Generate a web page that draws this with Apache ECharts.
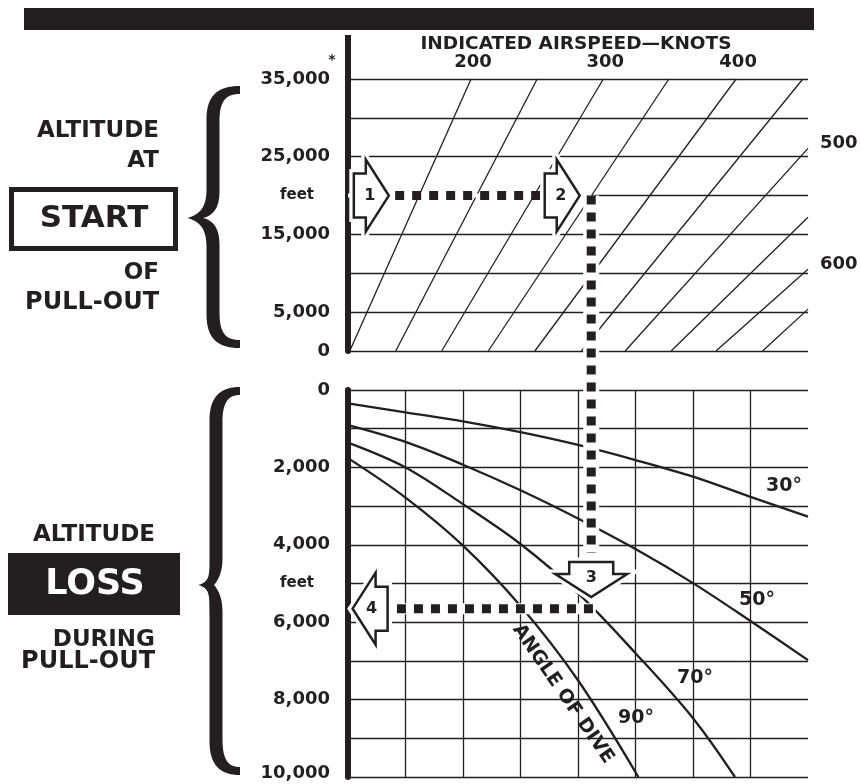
<!DOCTYPE html>
<html>
<head>
<meta charset="utf-8">
<script src="https://cdn.jsdelivr.net/npm/echarts@6/dist/echarts.min.js"></script>
<style>
  html, body { margin: 0; padding: 0; background: #fff; }
  #chart { width: 861px; height: 784px; }
</style>
</head>
<body>
<div id="chart"></div>
<script>
// x runs in chart grid units 0..8 (the eight columns of the lower panel)

// indicated airspeed lines, upper panel
var iasKnots = [200, 250, 300, 350, 400, 450, 500, 550, 600, 650];
var iasSeaLevelX = [0.03, 0.83, 1.63, 2.44, 3.25, 4.06, 4.82, 5.62, 6.40, 7.21];
var iasEndX = [2.14, 3.29, 4.44, 5.58, 6.75, 7.91, 8, 8, 8, 8];
var iasEndAlt = [35000, 35000, 35000, 35000, 35000, 35000, 26070, 17210, 10530, 5390];
var iasLabelled = [200, 300, 400, 500, 600];

// altitude loss during pull-out, [x, feet], one per angle of dive
var dive30 = [[0, 344], [1, 580], [2, 810], [3, 1090], [4, 1420], [5, 1810], [6, 2240], [7, 2760], [8, 3270]];
var dive50 = [[0, 906], [1, 1340], [2, 1930], [3, 2590], [4, 3320], [5, 4110], [6, 4990], [7, 5970], [8, 6980]];
var dive70 = [[0, 1360], [1, 2000], [2, 2950], [3, 3980], [4, 5250], [5, 6800], [6, 8480], [6.73, 10000]];
var dive90 = [[0, 1760], [1, 2780], [2, 4020], [3, 5580], [4, 7500], [5.05, 10000]];
var diveNames = ['30°', '50°', '70°', '90°'];

// axis tick labels
var startTickValues = [0, 5000, 15000, 20000, 25000, 35000];
var startTickText = ['0', '5,000', '15,000', '{f|feet}', '25,000', '35,000'];
var lossTickValues = [0, 2000, 4000, 5000, 6000, 8000, 10000];
var lossTickText = ['0', '2,000', '4,000', '{f|feet}', '6,000', '8,000', '{b|10,000}'];

// worked example: 20,000 ft start, follow to the dive curve, read the loss
var exStartAlt = 20000;
var exStartX = 0.82, exTurnX = 3.39;
var exDownX = 4.23, exDownEndLoss = 4210;
var exLoss = 5650, exLossStartX = 4.26, exEndX = 0.82;
var arrowTopX = [0.71, 4.03], arrowTopAlt = [20000, 20000], arrowTopDir = [0, 0], arrowTopText = ['1', '2'];
var arrowBotX = [4.23, 0.08], arrowBotLoss = [5350, 5650], arrowBotDir = [90, 180], arrowBotText = ['3', '4'];

var INK = '#231f20';
var FONT = '"DejaVu Sans", sans-serif';

var chart = echarts.init(document.getElementById('chart'));

function labelMap(values, texts) {
  return function (v) {
    var i = values.indexOf(v);
    return i < 0 ? '' : texts[i];
  };
}

function arrowSeries(xIdx, xs, ys, dirs, texts) {
  return {
    type: 'custom', xAxisIndex: xIdx, yAxisIndex: xIdx, z: 10, silent: true,
    data: xs.map(function (x, i) { return [x, ys[i], dirs[i]]; }),
    renderItem: function (params, api) {
      var p = api.coord([api.value(0), api.value(1)]);
      var a = api.value(2) * Math.PI / 180, c = Math.cos(a), s = Math.sin(a);
      var shape = [[-35, -22], [-23, -22], [-23, -36], [0, 0], [-23, 36], [-23, 22], [-35, 22]];
      var pts = shape.map(function (q) {
        return [p[0] + q[0] * c - q[1] * s, p[1] + q[0] * s + q[1] * c];
      });
      return {
        type: 'group',
        children: [
          { type: 'polygon', shape: { points: pts }, style: { fill: '#fff', stroke: '#fff', lineWidth: 9 } },
          { type: 'polygon', shape: { points: pts }, style: { fill: '#fff', stroke: INK, lineWidth: 2.5 } },
          {
            type: 'text', x: p[0] - 19 * c, y: p[1] - 19 * s,
            style: { text: texts[params.dataIndex], font: 'bold 16px ' + FONT, fill: INK, align: 'center', verticalAlign: 'middle' }
          }
        ]
      };
    }
  };
}

function bracePath(xr, xs, xp, y0, ym, y1) {
  var h = 6.5, o = xs - h, i = xs + h;
  return [
    'M', xr, y0,
    'C', xs + 4, y0, o, y0 + 10, o, y0 + 34,
    'L', o, ym - 28,
    'C', o, ym - 10, xp + 12, ym - 3, xp, ym,
    'C', xp + 12, ym + 3, o, ym + 10, o, ym + 28,
    'L', o, y1 - 34,
    'C', o, y1 - 10, xs + 4, y1, xr, y1,
    'L', xr, y1 - 8,
    'C', i + 4, y1 - 8, i, y1 - 18, i, y1 - 36,
    'L', i, ym + 26,
    'C', i, ym + 10, xs, ym + 2, xp + 16, ym,
    'C', xs, ym - 2, i, ym - 10, i, ym - 26,
    'L', i, y0 + 36,
    'C', i, y0 + 18, i + 4, y0 + 8, xr, y0 + 8,
    'Z'
  ].join(' ');
}

var series = [];

iasKnots.forEach(function (k, i) {
  series.push({
    type: 'line', name: k + ' knots', xAxisIndex: 0, yAxisIndex: 0, silent: true, symbol: 'none', z: 2,
    data: [[iasSeaLevelX[i], 0], [iasEndX[i], iasEndAlt[i]]],
    lineStyle: { color: INK, width: 1.3 }
  });
});

// airspeed figures at the far end of the labelled lines
series.push({
  type: 'custom', xAxisIndex: 0, yAxisIndex: 0, silent: true, z: 4, clip: false,
  data: iasLabelled.map(function (k) {
    var i = iasKnots.indexOf(k);
    return [iasEndX[i], iasEndAlt[i], k];
  }),
  renderItem: function (params, api) {
    var p = api.coord([api.value(0), api.value(1)]);
    var top = api.value(1) >= 35000;
    return {
      type: 'text',
      x: top ? p[0] + 2 : p[0] + 12,
      y: top ? p[1] - 17 : p[1] - 5,
      style: {
        text: String(api.value(2)), font: 'bold 18px ' + FONT, fill: INK,
        align: top ? 'center' : 'left', verticalAlign: 'middle'
      }
    };
  }
});

[dive30, dive50, dive70, dive90].forEach(function (d, i) {
  series.push({
    type: 'line', name: diveNames[i], xAxisIndex: 1, yAxisIndex: 1, silent: true, symbol: 'none', z: 3,
    data: d, smooth: 0.35,
    lineStyle: { color: INK, width: 2.3 }
  });
});

var guideStyle = { color: INK, width: 9, type: [9, 8], cap: 'butt' };

// top run
series.push({
  type: 'line', xAxisIndex: 0, yAxisIndex: 0, silent: true, symbol: 'none', z: 5,
  data: [[0, exStartAlt], [exDownX, exStartAlt]], lineStyle: { color: '#fff', width: 4 }
});
series.push({
  type: 'line', xAxisIndex: 0, yAxisIndex: 0, silent: true, symbol: 'none', z: 6,
  data: [[exStartX, exStartAlt], [exTurnX, exStartAlt]], lineStyle: guideStyle
});
// drop line, filled in once the axes exist
series.push({
  id: 'downHalo', type: 'line', xAxisIndex: 1, yAxisIndex: 1, clip: false, silent: true, symbol: 'none', z: 5,
  data: [], lineStyle: { color: '#fff', width: 16 }
});
series.push({
  id: 'down', type: 'line', xAxisIndex: 1, yAxisIndex: 1, clip: false, silent: true, symbol: 'none', z: 6,
  data: [], lineStyle: guideStyle
});
// read-off line
series.push({
  type: 'line', xAxisIndex: 1, yAxisIndex: 1, silent: true, symbol: 'none', z: 5,
  data: [[exLossStartX + 0.05, exLoss], [exEndX, exLoss]], lineStyle: { color: '#fff', width: 11 }
});
series.push({
  type: 'line', xAxisIndex: 1, yAxisIndex: 1, silent: true, symbol: 'none', z: 6,
  data: [[exLossStartX, exLoss], [exEndX, exLoss]], lineStyle: guideStyle
});

series.push(arrowSeries(0, arrowTopX, arrowTopAlt, arrowTopDir, arrowTopText));
series.push(arrowSeries(1, arrowBotX, arrowBotLoss, arrowBotDir, arrowBotText));

// the two curly braces
series.push({
  type: 'custom', coordinateSystem: 'none', silent: true, z: 20,
  data: [0],
  renderItem: function () {
    return {
      type: 'group',
      children: [
        { type: 'path', shape: { pathData: bracePath(240, 213, 187, 86, 218, 348) }, style: { fill: INK } },
        { type: 'path', shape: { pathData: bracePath(240, 216, 198, 387, 585, 775) }, style: { fill: INK } }
      ]
    };
  }
});

function txt(x, y, s, size, align, fill, extra) {
  var el = {
    type: 'text', x: x, y: y, z: 20, silent: true,
    style: { text: s, font: 'bold ' + size + 'px ' + FONT, fill: fill || INK, align: align || 'center', verticalAlign: 'middle' }
  };
  if (extra) {
    for (var k in extra) el[k] = extra[k];
  }
  return el;
}

var graphics = [
  { type: 'rect', shape: { x: 24, y: 8, width: 790, height: 22 }, style: { fill: INK }, silent: true },
  { type: 'rect', shape: { x: 345, y: 35, width: 6, height: 46 }, style: { fill: INK }, silent: true },
  txt(332, 60, '*', 14),
  txt(576, 44, 'INDICATED AIRSPEED—KNOTS', 18.5),

  txt(159, 131, 'ALTITUDE', 23, 'right'),
  txt(159, 161, 'AT', 23, 'right'),
  { type: 'rect', shape: { x: 11.5, y: 189.5, width: 164, height: 59 }, style: { fill: 'none', stroke: INK, lineWidth: 5 }, silent: true },
  txt(94, 219, 'START', 31),
  txt(159, 273, 'OF', 23, 'right'),
  txt(159, 303, 'PULL-OUT', 24, 'right'),

  txt(155, 535, 'ALTITUDE', 23, 'right'),
  { type: 'rect', shape: { x: 8, y: 553, width: 172, height: 62 }, style: { fill: INK }, silent: true },
  txt(95, 585, 'LOSS', 35, 'center', '#fff'),
  txt(155, 640, 'DURING', 23, 'right'),
  txt(155, 662, 'PULL-OUT', 24, 'right'),

  txt(784, 486, diveNames[0], 19),
  txt(757, 600, diveNames[1], 19),
  txt(695, 678, diveNames[2], 19),
  txt(636, 718, diveNames[3], 19),
  txt(563, 694, 'ANGLE OF DIVE', 19, 'center', INK, { rotation: -55.6 * Math.PI / 180 })
];

var tickLabel = {
  margin: 18, color: INK, fontFamily: FONT, fontWeight: 'bold', fontSize: 18,
  rich: {
    f: { fontSize: 15, fontWeight: 'bold', fontFamily: FONT, color: INK, padding: [0, 16, 0, 0] },
    b: { fontSize: 18, fontWeight: 'bold', fontFamily: FONT, color: INK, padding: [0, 0, 8, 0] }
  }
};

var option = {
  backgroundColor: '#fff',
  animation: false,
  grid: [
    { left: 348, top: 79, width: 460, height: 272 },
    { left: 348, top: 390, width: 460, height: 387 }
  ],
  xAxis: [
    {
      gridIndex: 0, type: 'value', min: 0, max: 8, interval: 1,
      axisLine: { show: false }, axisTick: { show: false }, axisLabel: { show: false }, splitLine: { show: false }
    },
    {
      gridIndex: 1, type: 'value', min: 0, max: 8, interval: 1,
      axisLine: { show: false }, axisTick: { show: false }, axisLabel: { show: false },
      splitLine: { show: true, showMinLine: false, showMaxLine: false, lineStyle: { color: INK, width: 1.3 } }
    }
  ],
  yAxis: [
    {
      gridIndex: 0, type: 'value', min: 0, max: 35000, interval: 5000,
      axisLine: { show: true, lineStyle: { color: INK, width: 6 } }, axisTick: { show: false },
      axisLabel: Object.assign({ formatter: labelMap(startTickValues, startTickText) }, tickLabel),
      splitLine: { show: true, lineStyle: { color: INK, width: 1.4 } }
    },
    {
      gridIndex: 1, type: 'value', min: 0, max: 10000, interval: 1000, inverse: true,
      axisLine: { show: true, lineStyle: { color: INK, width: 6 } }, axisTick: { show: false },
      axisLabel: Object.assign({ formatter: labelMap(lossTickValues, lossTickText) }, tickLabel),
      splitLine: { show: true, lineStyle: { color: INK, width: 1.3 } }
    }
  ],
  graphic: graphics,
  series: series
};

chart.setOption(option);

// the drop line runs from the start altitude on the upper scale into the lower panel
var yPix = chart.convertToPixel({ yAxisIndex: 0 }, exStartAlt);
var startLoss = chart.convertFromPixel({ yAxisIndex: 1 }, yPix);
chart.setOption({
  series: [
    { id: 'downHalo', data: [[exDownX, startLoss], [exDownX, exDownEndLoss]] },
    { id: 'down', data: [[exDownX, startLoss], [exDownX, exDownEndLoss]] }
  ]
});
</script>
</body>
</html>
